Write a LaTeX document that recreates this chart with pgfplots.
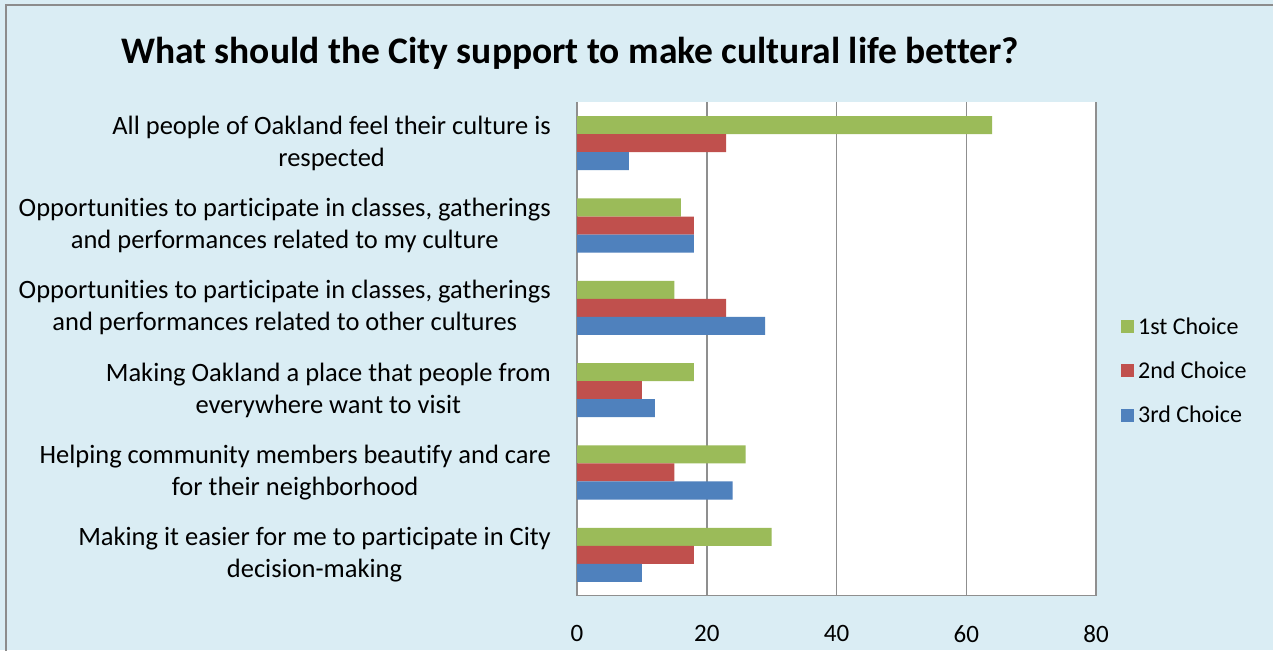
\documentclass[border=0pt]{standalone}
\usepackage{pgfplots}
\pgfplotsset{compat=1.18}
\usepackage{fontspec}
\setmainfont{Carlito}[Ligatures=NoCommon]
\definecolor{bgblue}{HTML}{DAEDF4}
\definecolor{framegray}{HTML}{8C8C8C}
\definecolor{gridgray}{HTML}{8F8F8F}
\definecolor{c1}{HTML}{9BBB59}
\definecolor{c2}{HTML}{C0504D}
\definecolor{c3}{HTML}{4F81BD}
\newcommand\lbl{\fontsize{26.5}{32}\selectfont}
\begin{document}
\begin{tikzpicture}
\useasboundingbox (0,0) rectangle (1273pt,650pt);
\fill[bgblue] (0,0) rectangle (1273pt,650pt);
\draw[framegray, line width=2pt] (6pt,-20pt) -- (6pt,645pt) -- (1300pt,645pt);
\node[font=\bfseries\fontsize{37.5}{44}\selectfont] at (570pt,597pt)
  {What should the City support to make cultural life better?};
\begin{axis}[
    at={(577pt,54pt)}, anchor=south west,
    scale only axis, width=519pt, height=494pt,
    xmin=0, xmax=80, ymin=-0.5, ymax=5.5,
    xtick={0,20,40,60,80}, ytick={0,1,2,3,4,5},
    yticklabels={
      {Making it easier for me to participate in City\\decision-making},
      {Helping community members beautify and care\\for their neighborhood},
      {Making Oakland a place that people from\\everywhere want to visit},
      {Opportunities to participate in classes, gatherings\\and performances related to other cultures},
      {Opportunities to participate in classes, gatherings\\and performances related to my culture},
      {All people of Oakland feel their culture is\\respected}},
    yticklabel style={align=center, font=\lbl, inner sep=0pt, xshift=-26pt},
    xticklabel style={font=\fontsize{25}{30}\selectfont, inner sep=0pt, yshift=-29pt},
    /pgf/number format/assume math mode=true,
    major tick length=0pt,
    axis background/.style={fill=white},
    xmajorgrids, major grid style={gridgray, line width=1.5pt},
    axis x line*=bottom, axis y line*=left,
    x axis line style={gridgray, line width=1pt, -},
    y axis line style={draw=none},
    xbar, bar width=18pt,
    legend style={at={(1.048,0.4555)}, anchor=west, draw=none, fill=none,
      font=\fontsize{24}{28}\selectfont, row sep=22pt, inner sep=0pt,
      nodes={inner xsep=4pt}},
    legend cell align=left,
    legend image code/.code={\fill[#1] (0pt,-6.5pt) rectangle (13pt,6.5pt);},
  ]
  \addplot[fill=c1, draw=none, bar shift=18pt]
    coordinates {(64,5) (16,4) (15,3) (18,2) (26,1) (30,0)};
  \addplot[fill=c2, draw=none, bar shift=0pt]
    coordinates {(23,5) (18,4) (23,3) (10,2) (15,1) (18,0)};
  \addplot[fill=c3, draw=none, bar shift=-18pt]
    coordinates {(8,5) (18,4) (29,3) (12,2) (24,1) (10,0)};
  \legend{1st Choice, 2nd Choice, 3rd Choice}
\end{axis}
\end{tikzpicture}
\end{document}
